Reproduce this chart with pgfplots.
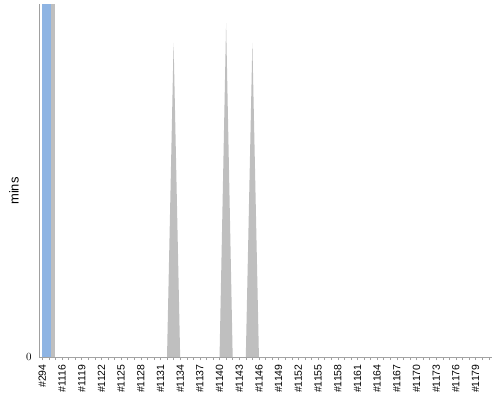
\documentclass[border=0pt]{standalone}
\usepackage{fontspec}
\setmainfont{Liberation Sans}
\usepackage{pgfplots}
\pgfplotsset{compat=1.18}
\definecolor{barblue}{HTML}{8EB4E3}
\definecolor{areagray}{HTML}{BFBFBF}
\definecolor{axisgray}{HTML}{A0A0A0}
\begin{document}
\begin{tikzpicture}
  \useasboundingbox (0,0) rectangle (500bp,400bp);
  \begin{axis}[
      at={(39bp,43bp)}, anchor=south west,
      scale only axis,
      width=453bp, height=353bp,
      xmin=-0.5, xmax=68.5,
      ymin=0, ymax=100,
      axis x line*=bottom,
      axis y line*=left,
      axis line style={draw=axisgray},
      ytick={0}, yticklabel style={font=\fontsize{11}{11}\selectfont, xshift=-1bp},
      major y tick style={draw=none},
      xtick={0,3,...,66},
      minor xtick={0,...,68},
      xticklabels={\#294,\#1116,\#1119,\#1122,\#1125,\#1128,\#1131,\#1134,\#1137,\#1140,\#1143,\#1146,\#1149,\#1152,\#1155,\#1158,\#1161,\#1164,\#1167,\#1170,\#1173,\#1176,\#1179},
      xticklabel style={rotate=90, anchor=east, font=\fontsize{10.5}{11}\selectfont, xshift=-1bp},
      tick align=outside,
      major tick length=3bp, minor tick length=3bp,
      every tick/.style={draw=axisgray},
      ylabel={mins},
      ylabel style={font=\fontsize{13}{13}\selectfont, at={(axis description cs:-0.055,0.47)}, anchor=center},
      clip=true,
    ]
    % gray series
    \addplot[ybar, bar width=2.02, bar shift=0.92, fill=areagray, draw=none] coordinates {(0,100)};
    \addplot[fill=areagray, draw=none] coordinates {
      (1,0) (19,0) (20,89) (21,0) (27,0) (28,94.6) (29,0)
      (31,0) (32,89) (33,0) (68,0)} \closedcycle;
    % blue series
    \addplot[ybar, bar width=1.42, bar shift=0.62, fill=barblue, draw=none] coordinates {(0,100)};
  \end{axis}
\end{tikzpicture}
\end{document}
